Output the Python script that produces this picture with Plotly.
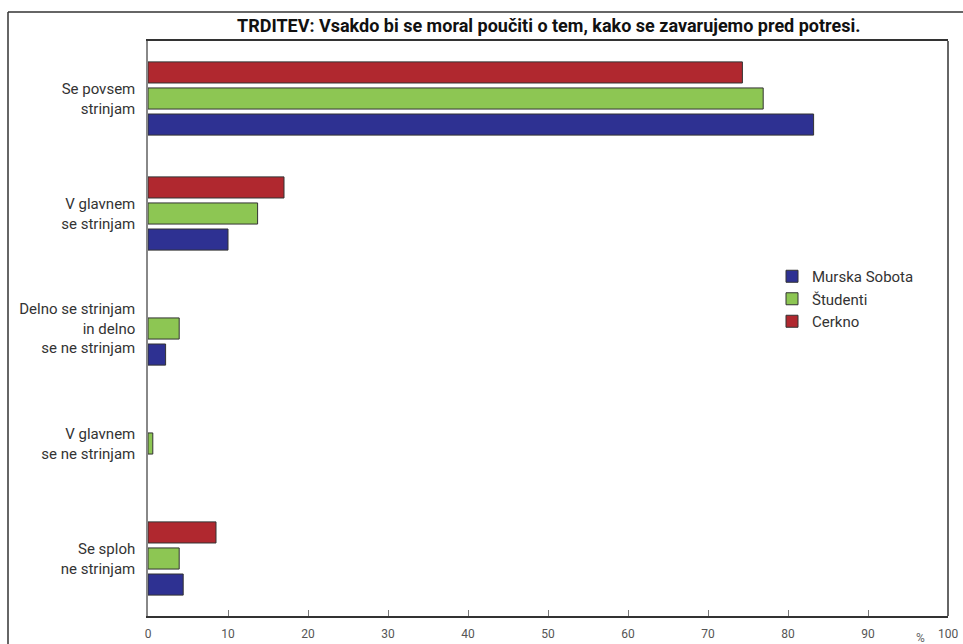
import plotly.graph_objects as go

categories = [
    "Se povsem<br>strinjam",
    "V glavnem<br>se strinjam",
    "Delno se strinjam<br>in delno<br>se ne strinjam",
    "V glavnem<br>se ne strinjam",
    "Se sploh<br>ne strinjam",
]
murska_sobota = [83.2, 10.0, 2.2, None, 4.4]
studenti = [76.9, 13.7, 3.9, 0.6, 3.9]
cerkno = [74.3, 17.0, None, None, 8.5]
x_ticks = list(range(0, 101, 10))

title_text = "TRDITEV: Vsakdo bi se moral poučiti o tem, kako se zavarujemo pred potresi."
FONT = "Roboto, Liberation Sans, sans-serif"

fig = go.Figure()
series = [
    ("Murska Sobota", murska_sobota, "#2e3192"),
    ("Študenti", studenti, "#8dc653"),
    ("Cerkno", cerkno, "#b0282f"),
]
for name, vals, col in series:
    fig.add_trace(go.Bar(
        y=categories, x=vals, name=name, orientation="h",
        marker=dict(color=col, line=dict(color="#333333", width=1)),
    ))

W, H = 963, 644
L, R, T, B = 148, 15, 41, 28
pw = W - L - R
ph = H - T - B

def px(x):
    return (x - L) / pw

def py(y):
    return (H - B - y) / ph

fig.update_layout(
    width=W, height=H,
    margin=dict(l=L, r=R, t=T, b=B, pad=0, autoexpand=False),
    paper_bgcolor="white", plot_bgcolor="white",
    barmode="group", bargap=0.32, bargroupgap=0.19,
    font=dict(family=FONT, color="#333333"),
    showlegend=True,
    legend=dict(
        x=px(772), y=py(260), xanchor="left", yanchor="top",
        font=dict(family=FONT, size=15, color="#333333"),
        bgcolor="rgba(0,0,0,0)", tracegroupgap=0, itemwidth=30,
    ),
    xaxis=dict(
        range=[0, 100], tickvals=x_ticks, ticktext=[str(v) for v in x_ticks],
        ticks="inside", ticklen=6, tickcolor="#777777", tickwidth=1,
        showgrid=False, zeroline=False, automargin=False,
        showline=True, linecolor="#333333", linewidth=1.5, mirror=True,
        tickfont=dict(family=FONT, size=12, color="#555555"),
        ticklabelstandoff=6,
        fixedrange=True,
    ),
    yaxis=dict(
        categoryorder="array", categoryarray=categories[::-1],
        range=[-0.5, 4.5], automargin=False,
        showgrid=False, zeroline=False, ticks="", ticklabelstandoff=8,
        showline=True, linecolor="#888888", linewidth=1.5,
        tickfont=dict(family=FONT, size=15, color="#333333"),
        fixedrange=True,
    ),
    shapes=[
        dict(type="line", xref="paper", yref="paper",
             x0=px(8), x1=px(8), y0=py(12), y1=py(H + 5),
             line=dict(color="#333333", width=1.5)),
        dict(type="line", xref="paper", yref="paper",
             x0=px(8), x1=px(W + 5), y0=py(12), y1=py(12),
             line=dict(color="#333333", width=1.5)),
        dict(type="line", xref="paper", yref="paper",
             x0=1, x1=1, y0=0, y1=1,
             line=dict(color="#333333", width=1.5)),
    ],
    annotations=[
        dict(text="<b>" + title_text + "</b>", xref="paper", yref="paper",
             x=px(548), y=py(26), xanchor="center", yanchor="middle",
             showarrow=False, font=dict(family=FONT, size=18, color="#111111")),
        dict(text="%", xref="paper", yref="paper",
             x=px(920), y=py(638), xanchor="center", yanchor="middle",
             showarrow=False, font=dict(family=FONT, size=12, color="#666666")),
    ],
)

fig.write_html("out.html")
